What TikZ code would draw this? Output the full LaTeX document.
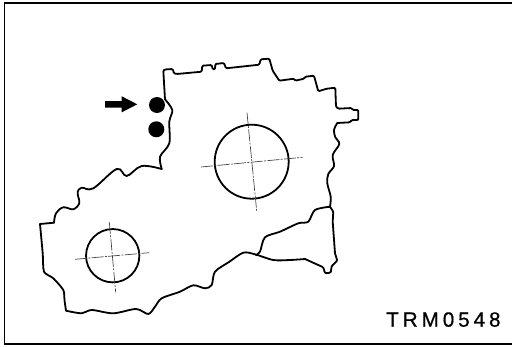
\documentclass[tikz,border=0pt]{standalone}
\usepackage{fontspec}
\setmainfont{Liberation Sans}
\tikzset{
  px/.style={x=0.75pt,y=-0.75pt},
  frameline/.style={line width=1.4pt,line join=miter},
  outline/.style={line width=1.35pt,line join=round,line cap=round,rounded corners=0.8pt},
  smooth outline/.style={line width=1.35pt,line join=round,line cap=round},
  bore/.style={line width=1.35pt},
  centreline/.style={line width=0.5pt,black!75,dash pattern=on 9pt off 1pt on 1.5pt off 1pt},
  dot/.style={circle,fill=black,inner sep=0pt,minimum size=12pt},
  label text/.style={font=\fontsize{15.5pt}{18pt}\selectfont,inner sep=0pt,anchor=base west}
}
\begin{document}
\begin{tikzpicture}[px]
\useasboundingbox (0,0) rectangle (512,347);
\fill[white] (0,0) rectangle (512,347);
\draw[frameline] (512,3.2) -- (4.5,3.2) -- (4.5,344) -- (512,344);
% straight-edged upper part
\draw[outline] (165,99.3) -- (163.3,70.7) -- (164.5,69.5) -- (172.7,69) -- (174,73.3) -- (176.7,74) -- (201.7,71.7) -- (202.3,65.7) -- (211.7,65) -- (212.7,69.3) -- (215,69.3) -- (215.3,64) -- (224,63) -- (226,68.3) -- (259.3,64.7) -- (260.7,59.3) -- (269.3,58.7) -- (272.7,70.7) -- (279.3,80.7) -- (294,78.7) -- (295.3,80.7) -- (304,78.7) -- (305.3,76.7) -- (314,75.7) -- (318.3,91.3) -- (326.7,88.7) -- (335.3,87.7) -- (336,106.7) -- (338.3,108.7) -- (351.7,108) -- (352.7,110) -- (358.3,110) -- (358.3,120) -- (351.7,120) -- (350,122.3) -- (337.3,123);
% wavy edges
\draw[smooth outline] plot[smooth,tension=0.55] coordinates {(337.3,123) (334,130) (335.3,137.3) (339.3,144) (332.7,155) (334,166) (328.3,174) (327.3,183.3) (330.7,196.7) (330,206.7)};
\draw[outline] (330,206.7) -- (333.3,211.7) -- (332.7,221.7) -- (335,253.3) -- (337.3,260.7) -- (331.7,266) -- (330.7,272.7) -- (325,273.3) -- (323.3,267.3) -- (305,259);
\draw[smooth outline] plot[smooth,tension=0.5] coordinates {(305,259) (290,260) (273.3,260) (255,254.3) (243.3,252.7) (229,262) (215,271.7) (211.7,285) (205,288.3) (193.3,285.3) (180,291.7) (161.7,298.3) (155,306.7) (148.3,314) (136,309) (113.3,313.3) (91.7,310) (81.7,313.3) (66,310.7)};
\draw[smooth outline] plot[smooth,tension=0.4] coordinates {(66,310.7) (64.5,300) (63.3,290) (53.3,278.3) (44,271.7) (42.7,253.3) (40,224)};
\draw[outline] (40,224) -- (54,222.7);
\draw[smooth outline] plot[smooth,tension=0.6] coordinates {(54,222.7) (56,213.3) (63.3,207.3) (73.3,209.3) (79.3,203.3) (78.3,197) (77.7,191.7) (81.7,187.7) (93.3,188.3) (116.7,169) (126.7,176) (141.7,166) (161.7,169)};
\draw[smooth outline] plot[smooth,tension=0.5] coordinates {(161.7,169) (160,156.7) (169.3,143.3) (169.3,121.7) (172.3,110) (165,99.3)};
% inner branch
\draw[smooth outline] plot[smooth,tension=0.5] coordinates {(330,206.7) (315,210) (308.3,221.7) (298.3,223.3) (280,231.7) (265,237.3) (260,251.7) (256,255)};
% bores
\node[bore,draw,circle,inner sep=0pt,minimum size=55.5pt] (bigbore) at (251.7,161.7) {};
\node[bore,draw,circle,inner sep=0pt,minimum size=40pt] (smallbore) at (112.7,255.7) {};
\draw[centreline] (201,167) -- (302.7,157.3);
\draw[centreline] (247,112.7) -- (256.7,211);
\draw[centreline] (75,259.3) -- (149,252.7);
\draw[centreline] (109.3,222) -- (115.7,292.3);
% dots and arrow
\node[dot] (dotA) at (157,105) {};
\node[dot] (dotB) at (156.3,129.3) {};
\coordinate (arrowtail) at (105,104.3);
\fill (arrowtail) ++(0,-3.3) -- (121.7,101) -- (121.7,96.3) -- (137.3,104.3) -- (121.7,112.3) -- (121.7,107.6) -- (105,107.6) -- cycle;
\node[label text] (code) at (386,326.7) {\addfontfeature{LetterSpace=19,FakeBold=0.6}TRM0548};
\end{tikzpicture}
\end{document}
